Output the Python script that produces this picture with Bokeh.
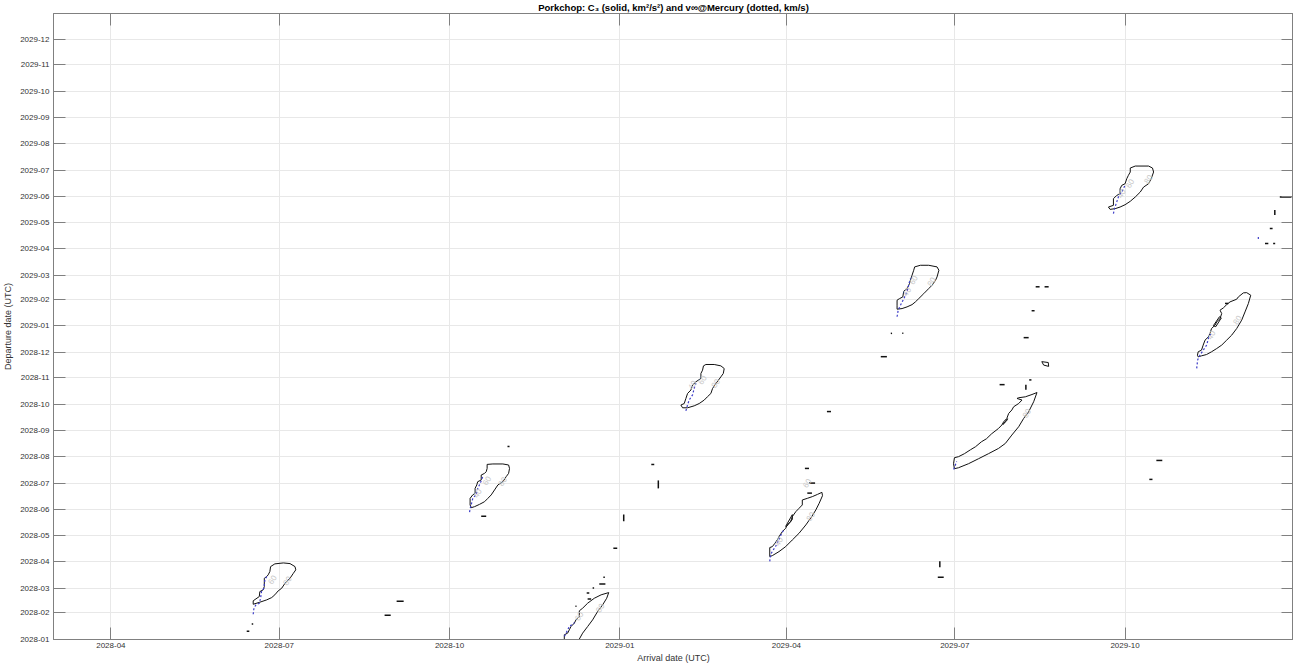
import pandas as pd
from bokeh.plotting import figure
from bokeh.models import FixedTicker, LinearAxis, Range1d, CustomJSTickFormatter, ColumnDataSource
from bokeh.core.properties import value
from bokeh.embed import file_html
from bokeh.resources import INLINE

# ---------------- data (days since 2028-01-01) ----------------
EPOCH = pd.Timestamp("2028-01-01")
x_tick_labels = ["2028-04", "2028-07", "2028-10", "2029-01", "2029-04", "2029-07", "2029-10"]
y_tick_labels = ["2028-01", "2028-02", "2028-03", "2028-04", "2028-05", "2028-06",
                 "2028-07", "2028-08", "2028-09", "2028-10", "2028-11", "2028-12",
                 "2029-01", "2029-02", "2029-03", "2029-04", "2029-05", "2029-06",
                 "2029-07", "2029-08", "2029-09", "2029-10", "2029-11", "2029-12"]
arrival_start, arrival_end = "2028-03-01", "2029-12-31"
departure_start, departure_end = "2028-01-01", "2029-12-31"

# C3 contour loops (solid): arrival day, departure day
b1_arr = [177.3, 179.6, 184.2, 187.8, 190.5, 190.9, 189.6, 187.8, 185.1, 183.3, 181.4, 179.6, 177.9,
          175.2, 171.5, 167.9, 167.9, 169.4, 171.2, 171.5, 173.3, 173.9, 173.9, 175.2, 176.0, 176.9]
b1_dep = [85.0, 88.2, 89.3, 88.5, 85.0, 81.2, 77.2, 71.4, 65.6, 59.8, 56.7, 52.1, 48.9,
          46.2, 43.5, 41.1, 45.1, 47.4, 50.1, 55.9, 57.9, 61.7, 71.4, 73.4, 75.4, 79.2]
b2_arr = [294.3, 297.4, 302.8, 305.9, 306.4, 305.9, 304.6, 302.8, 300.1, 298.3, 296.5, 294.7, 292.9, 290.2,
          287.5, 285.7, 285.1, 285.1, 286.5, 287.8, 287.8, 288.7, 289.2, 291.1, 291.1, 292.9, 293.8, 294.3]
b2_dep = [204.2, 204.7, 204.7, 203.5, 199.5, 193.7, 189.9, 184.0, 180.2, 174.4, 168.6, 164.6, 160.7, 157.6,
          154.9, 153.7, 156.9, 164.6, 168.6, 170.4, 176.3, 180.2, 184.0, 186.0, 191.8, 193.7, 195.7, 199.5]
b3_arr = [336.0, 336.0, 337.8, 338.7, 339.6, 341.4, 342.3, 344.1, 344.1, 345.9, 348.6, 352.2, 355.9, 360.0,
          358.9, 356.7, 354.0, 351.3, 348.6, 345.9, 343.2]
b3_dep = [-3.0, 5.5, 7.4, 11.3, 15.1, 19.0, 22.9, 26.8, 33.4, 36.5, 42.3, 48.1, 52.1, 54.7,
          48.1, 40.4, 32.6, 22.9, 15.1, 7.4, -3.0]
b4_arr = [411.2, 412.5, 417.0, 420.6, 422.4, 421.9, 420.6, 419.3, 417.9, 416.1, 415.2, 413.3, 411.6, 408.9,
          406.2, 402.6, 399.9, 399.0, 400.8, 401.7, 402.6, 404.4, 405.3, 407.1, 409.8, 409.8, 410.7]
b4_dep = [319.1, 320.7, 320.7, 319.1, 316.0, 310.2, 306.3, 302.5, 298.5, 292.7, 286.9, 283.0, 279.2, 275.2,
          272.5, 270.2, 270.2, 273.4, 275.2, 281.1, 286.9, 290.9, 296.7, 300.5, 304.4, 310.2, 314.1]
b5_arr = [447.0, 447.0, 448.4, 449.8, 451.1, 452.0, 453.8, 455.6, 456.5, 458.3, 459.2, 461.1, 462.8, 464.6,
          464.6, 467.3, 470.0, 472.8, 475.2, 475.5, 473.7, 471.9, 469.7, 466.5, 462.8, 459.2, 455.6, 452.0, 448.4]
b5_dep = [96.7, 107.2, 108.3, 112.2, 116.2, 120.0, 125.8, 129.7, 133.6, 137.5, 143.3, 149.1, 152.9, 156.9,
          162.7, 164.6, 166.6, 169.2, 171.6, 167.7, 158.8, 151.1, 143.3, 133.6, 123.8, 116.1, 108.3, 102.5, 97.8]
b6_arr = [525.3, 528.4, 532.9, 537.4, 538.4, 537.4, 536.6, 534.7, 532.9, 530.2, 527.5, 525.7, 523.9,
          521.2, 518.5, 515.8, 515.8, 515.8, 517.1, 518.9, 519.4, 521.2, 522.5, 523.0, 523.9, 524.8]
b6_dep = [434.5, 436.4, 436.4, 434.5, 430.6, 422.8, 419.0, 413.1, 409.2, 403.3, 397.5, 393.7, 390.5,
          387.9, 385.9, 385.2, 389.9, 395.7, 397.5, 399.5, 406.1, 409.2, 415.0, 419.0, 424.8, 430.6]
b7_arr = [591.4, 588.7, 585.1, 581.5, 580.6, 583.3, 581.5, 578.8, 577.8, 576.1, 575.1, 573.4, 572.4, 570.6,
          566.9, 564.1, 561.4, 558.2, 555.5, 552.2, 549.0, 546.8, 546.3, 546.8,
          549.0, 554.4, 559.8, 565.2, 570.6, 574.3, 577.8, 581.5, 584.2, 586.9, 589.6]
b7_dep = [288.0, 285.7, 283.0, 281.9, 281.1, 279.2, 275.2, 271.4, 267.6, 263.6, 257.8, 253.9, 250.1, 246.1,
          239.9, 234.1, 230.6, 224.8, 221.3, 216.7, 213.2, 212.0, 205.0, 199.2,
          200.3, 205.0, 210.8, 216.7, 222.8, 228.6, 238.4, 248.1, 257.8, 265.6, 277.2]
b8_arr = [641.8, 644.5, 651.7, 653.8, 654.4, 653.1, 651.7, 649.0, 647.2, 644.5, 641.8, 639.0, 636.3,
          633.6, 630.9, 630.0, 632.7, 632.7, 634.5, 636.3, 636.3, 637.2, 639.0, 639.9, 640.8, 641.8]
b8_dep = [549.8, 552.1, 552.1, 549.8, 545.1, 537.3, 531.5, 527.6, 521.8, 516.0, 511.0, 507.0, 504.3,
          502.4, 501.6, 504.3, 506.3, 514.0, 517.9, 519.8, 525.6, 529.6, 531.5, 537.3, 541.3, 545.1]
b9_arr = [706.9, 704.7, 702.9, 700.2, 699.3, 695.7, 693.9, 692.1, 690.3, 691.2, 690.3, 688.5, 687.6, 685.7,
          684.9, 684.0, 682.2, 681.2, 680.3, 678.5, 678.1, 678.5, 680.3, 683.0, 685.7, 688.5, 691.2, 693.9,
          696.6, 699.3, 702.0, 703.8, 705.6]
b9_dep = [401.5, 404.5, 404.2, 399.5, 396.8, 393.7, 390.5, 386.7, 384.0, 380.1, 374.2, 370.4, 366.5, 362.6,
          356.8, 352.9, 349.1, 343.3, 337.5, 335.5, 331.6, 329.6, 330.8, 332.3, 335.5, 339.3, 343.3, 349.1,
          354.9, 362.6, 372.4, 382.0, 391.7]
# small closed C3 islands
s1_arr = [455.6, 459.2, 459.2, 456.1]
s1_dep = [131.9, 145.6, 140.0, 131.9]
s2_arr = [573.4, 575.5, 575.0, 573.0]
s2_dep = [252.0, 257.5, 255.0, 250.7]
s3_arr = [594.0, 597.5, 597.7, 595.0]
s3_dep = [324.0, 323.0, 318.5, 320.0]
s4_arr = [686.7, 690.0, 691.0, 688.0]
s4_dep = [366.0, 376.4, 375.0, 364.8]

closed_loops = [(b1_arr, b1_dep), (b2_arr, b2_dep), (b4_arr, b4_dep), (b5_arr, b5_dep),
                (b6_arr, b6_dep), (b7_arr, b7_dep), (b8_arr, b8_dep), (b9_arr, b9_dep),
                (s1_arr, s1_dep), (s2_arr, s2_dep), (s3_arr, s3_dep), (s4_arr, s4_dep)]
open_lines = [(b3_arr, b3_dep)]

# small C3 contour fragments: arrival start/end, departure start/end
frag_arr0 = [164.4, 167.1, 238.9, 245.4, 291.1, 305.3, 362.5, 368.1, 386.8, 383.0,
             354.9, 357.1, 351.3, 348.1, 348.6, 342.0,
             507.0, 512.4, 518.6, 538.9, 537.8, 466.0, 477.9, 468.2, 467.3, 571.2, 587.2, 585.4,
             584.2, 588.5, 590.7, 595.5, 655.9, 652.1, 693.0, 722.6, 719.9, 717.2, 714.6, 719.0]
frag_arr1 = [165.8, 167.9, 242.2, 249.2, 293.8, 306.4, 364.6, 368.1, 386.8, 384.6,
             358.2, 357.9, 352.1, 349.5, 350.5, 342.6,
             510.3, 513.1, 519.2, 538.9, 541.0, 468.2, 480.1, 471.5, 469.8, 573.9, 588.4, 585.4,
             586.9, 590.1, 592.8, 597.7, 659.1, 653.8, 694.8, 728.9, 719.9, 718.7, 716.4, 720.1]
frag_dep0 = [9.7, 18.2, 28.3, 44.6, 143.6, 225.1, 106.3, 145.9, 185.5, 204.1,
             64.8, 72.6, 60.1, 54.3, 47.3, 38.8,
             329.8, 357.0, 357.0, 91.2, 72.6, 199.5, 265.8, 182.4, 170.7, 297.2, 302.7, 297.0,
             352.0, 383.4, 411.3, 411.3, 208.8, 186.7, 391.9, 516.1, 500.9, 479.2, 461.7, 461.7]
frag_dep1 = [9.7, 18.2, 28.3, 44.6, 143.6, 225.1, 106.3, 137.8, 176.2, 204.1,
             64.8, 72.6, 60.1, 54.3, 47.3, 38.8,
             329.8, 357.0, 357.0, 84.2, 72.6, 199.5, 265.8, 182.4, 170.7, 297.2, 302.7, 291.1,
             352.0, 383.4, 411.3, 411.3, 208.8, 186.7, 391.9, 516.1, 495.1, 479.2, 461.7, 461.7]

# v_inf contours (dotted)
v1_arr = [167.9, 168.3, 169.4, 171.2, 171.9, 172.4, 173.7, 174.2, 175.2]
v1_dep = [29.5, 36.5, 40.4, 42.3, 48.1, 55.9, 59.8, 69.5, 73.4]
v2_arr = [284.8, 285.2, 285.7, 286.6, 288.4, 289.3, 290.6, 292.0]
v2_dep = [148.6, 153.2, 157.2, 164.9, 168.8, 176.5, 182.3, 190.2]
v3_arr = [336.1, 338.8, 341.5]
v3_dep = [3.8, 15.5, 19.4]
v4_arr = [401.7, 402.6, 403.5, 405.3, 406.2, 407.1]
v4_dep = [266.6, 273.6, 279.4, 285.3, 292.9, 298.8]
v5_arr = [447.0, 447.5, 448.4, 450.2, 452.0, 453.5, 454.7]
v5_dep = [91.2, 99.0, 102.8, 108.7, 116.5, 124.1, 128.1]
v6_arr = [515.8, 516.4, 517.7, 519.5, 521.2, 522.5, 523.1]
v6_dep = [376.4, 384.2, 390.0, 397.7, 405.5, 417.1, 421.0]
v7_arr = [546.4, 548.0]
v7_dep = [198.3, 207.6]
v8_arr = [632.7, 633.3, 634.5, 635.4, 637.2, 638.1, 639.0]
v8_dep = [496.7, 502.5, 510.3, 516.1, 521.9, 525.8, 529.7]
v9_arr = [677.7, 678.2, 679.5, 681.3, 683.1, 684.0, 685.4]
v9_dep = [316.2, 326.0, 331.8, 337.6, 343.5, 351.1, 356.9]
v10_arr = [711.0, 711.0]
v10_dep = [466.9, 471.8]
vinf_lines = [(v1_arr, v1_dep), (v2_arr, v2_dep), (v3_arr, v3_dep), (v4_arr, v4_dep), (v5_arr, v5_dep),
              (v6_arr, v6_dep), (v7_arr, v7_dep), (v8_arr, v8_dep), (v9_arr, v9_dep), (v10_arr, v10_dep)]

# contour level labels
lab_text = ["60", "80", "60", "80", "40", "60", "80", "60", "80", "40", "60", "80", "40",
            "60", "80", "40", "80", "60", "80", "40", "80", "40"]
lab_arr = [178.4, 186.5, 294.3, 302.8, 289.2, 344.1, 355.5, 410.7, 417.9, 405.3, 467.3, 469.2, 452.0,
           524.8, 534.5, 521.2, 586.0, 641.8, 651.7, 637.2, 699.8, 685.7]
lab_dep = [69.5, 68.4, 184.9, 184.1, 170.4, 26.8, 36.5, 302.5, 298.5, 296.7, 182.1, 143.3, 114.2,
           419.0, 417.0, 405.3, 263.6, 531.5, 536.6, 519.8, 372.4, 354.9]

# ---------------- figure ----------------
def days(s):
    return (pd.Timestamp(s if len(s) > 7 else s + "-01") - EPOCH).days

xt = [days(s) for s in x_tick_labels]
yt = [days(s) for s in y_tick_labels]

FONT = "Liberation Sans"
AX = "#808080"

p = figure(frame_width=1240, frame_height=626, output_backend="svg", toolbar_location=None,
           x_range=Range1d(days(arrival_start), days(arrival_end)),
           y_range=Range1d(days(departure_start), days(departure_end)),
           min_border_left=45, min_border_right=0, min_border_top=13, min_border_bottom=20)
p.margin = (-2, 0, -6, 0)
p.background_fill_color = "white"
p.outline_line_color = AX
p.outline_line_width = 1

def style_axis(ax, ticks, labels=None):
    ax.ticker = FixedTicker(ticks=ticks)
    ax.major_tick_in = 12
    ax.major_tick_out = 0
    ax.minor_tick_in = 0
    ax.minor_tick_out = 0
    ax.major_tick_line_color = AX
    ax.axis_line_color = AX
    ax.major_label_text_font = FONT
    ax.major_label_text_font_size = "8px"
    ax.major_label_text_color = "#333333"
    ax.axis_label_text_font = FONT
    ax.axis_label_text_font_size = "9px"
    ax.axis_label_text_font_style = "normal"
    ax.axis_label_text_color = "#333333"
    if labels is not None:
        ax.major_label_overrides = {t: l for t, l in zip(ticks, labels)}
    else:
        ax.formatter = CustomJSTickFormatter(code="return ''")
        ax.major_label_text_font_size = "0px"
        ax.major_label_standoff = 0
        ax.axis_label_standoff = 0

xa = p.xaxis[0]
style_axis(xa, xt, x_tick_labels)
xa.axis_label = "Arrival date (UTC)"
xa.major_label_standoff = 3
xa.axis_label_standoff = 2

ya = p.yaxis[0]
style_axis(ya, yt, y_tick_labels)
ya.axis_label = "Departure date (UTC)"
ya.major_label_standoff = 4
ya.axis_label_standoff = 4

top = LinearAxis()
style_axis(top, xt)
top.axis_label = "Porkchop: C\u2083 (solid, km\u00b2/s\u00b2) and v\u221e@Mercury (dotted, km/s)"
top.axis_label_text_font_style = "bold"
top.axis_label_text_font_size = "9.5px"
top.axis_label_text_color = "#000000"
top.axis_label_standoff = 1
p.add_layout(top, "above")

right = LinearAxis()
style_axis(right, yt)
p.add_layout(right, "right")

p.xgrid.ticker = FixedTicker(ticks=xt)
p.ygrid.ticker = FixedTicker(ticks=yt)
p.grid.grid_line_color = "#e8e8e8"
p.grid.grid_line_width = 1

# solid C3 contours
for a, d in closed_loops:
    p.line(a + a[:1], d + d[:1], line_color="#111111", line_width=1)
for a, d in open_lines:
    p.line(a, d, line_color="#111111", line_width=1)
p.segment(x0=frag_arr0, y0=frag_dep0, x1=frag_arr1, y1=frag_dep1, line_color="#111111", line_width=1.5)

# dotted v_inf contours
for a, d in vinf_lines:
    p.line(a, d, line_color="#3c3cc8", line_width=1.2, line_dash="2 2")

# contour labels
lab_src = ColumnDataSource(dict(x=lab_arr, y=lab_dep, t=lab_text))
p.text(x="x", y="y", text="t", source=lab_src, angle=1.0, text_font=value(FONT),
       text_font_size="8px", text_color="#c8c8c8", text_align="center", text_baseline="middle")

open("out.html", "w").write(file_html(p, INLINE))
